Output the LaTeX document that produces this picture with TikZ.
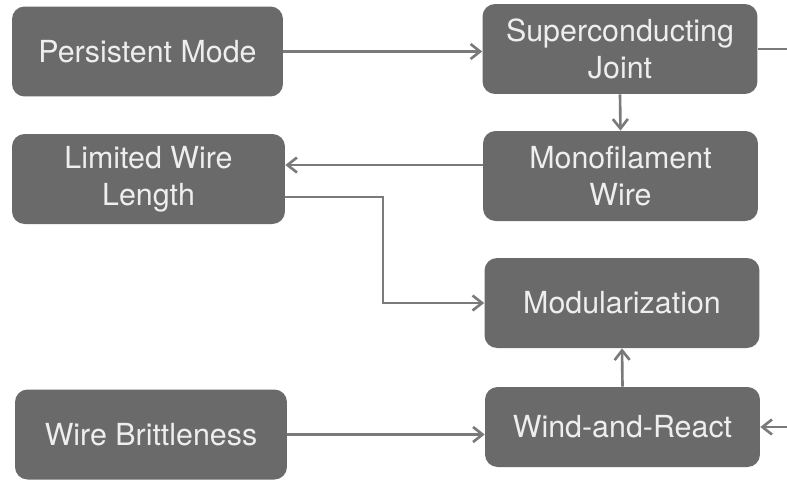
\documentclass[tikz,border=0pt]{standalone}
\usepackage{fontspec}
\setmainfont{TeX Gyre Heros}
\usetikzlibrary{arrows.meta}
\definecolor{boxgray}{HTML}{6A6A6A}
\definecolor{linegray}{HTML}{7A7A7A}
\definecolor{textwhite}{HTML}{EEEEEE}

\begin{document}
\begin{tikzpicture}[x=0.02cm, y=-0.02cm,
  block/.style={fill=boxgray, rounded corners=.25cm, text=textwhite, align=center,
    minimum width=5.5cm, minimum height=1.8cm, inner sep=0pt,
    font=\fontsize{17.3}{21}\selectfont},
  conn/.style={draw=linegray, line width=1.5pt, -{Straight Barb[length=1.9mm,width=3mm]}}]
\useasboundingbox (0,0) rectangle (787,481);
\clip (0,0) rectangle (787,481);
% left column
\node[block, minimum width=5.42cm] (pm)  at (147.5,51.5) {Persistent Mode};
\node[block, minimum width=5.46cm] (lwl) at (148.5,179)  {Limited Wire\\Length};
\node[block, minimum width=5.44cm] (wb)  at (151,434.5)  {Wire Brittleness};
% right column
\node[block] (sj)  at (620,49)    {Superconducting\\Joint};
\node[block] (mw)  at (620.5,176) {Monofilament\\Wire};
\node[block] (mod) at (622,303)   {Modularization};
\node[block, minimum height=1.6cm] (wr) at (622.5,427) {Wind-and-React};
\coordinate (bend) at (383,303);
\coordinate (edge) at (805,0);
% connectors
\draw[conn] (pm.east) -- (pm.east -| sj.west);
\draw[conn] (sj.south) -- (mw.north);
\draw[conn] ([yshift=.22cm]mw.west) -- ([yshift=.22cm]mw.west -| lwl.east);
\draw[conn] ([yshift=-.36cm]lwl.east) -| (bend) -- (mod.west);
\draw[conn] (wr.north) -- (mod.south);
\draw[conn] (wb.east) -- (wb.east -| wr.west);
\draw[conn] (sj.east) -- (sj.east -| edge) |- (wr.east);
\end{tikzpicture}
\end{document}
